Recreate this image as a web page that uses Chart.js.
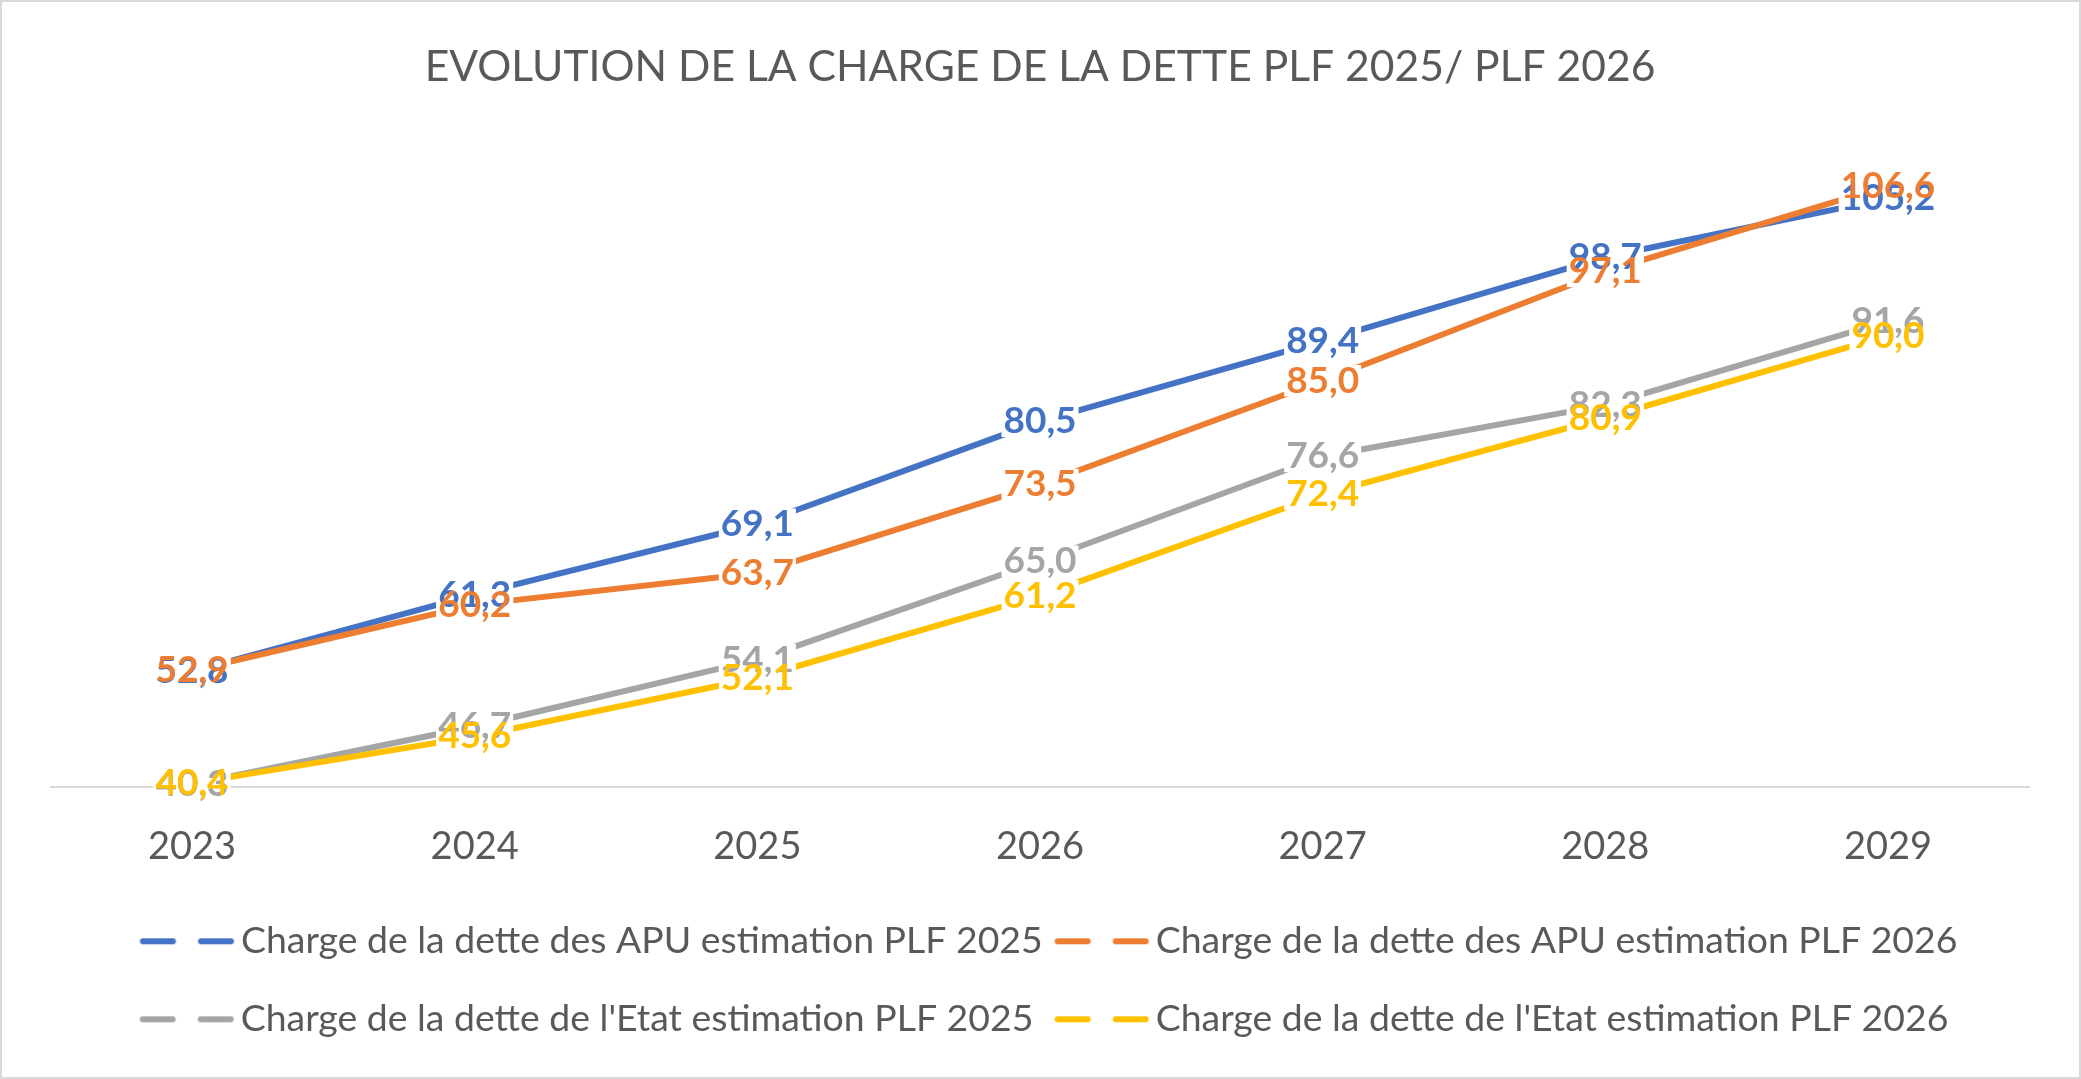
<!DOCTYPE html>
<html lang="fr">
<head>
  <meta charset="UTF-8" />
  <title>Evolution de la charge de la dette</title>
  <script src="https://cdn.jsdelivr.net/npm/chart.js"></script>
  <style>
    body {
      margin: 0;
      background-color: #ffffff;
    }
    canvas {
      display: block;
    }
  </style>
</head>
<body>
  <canvas id="detteChart" width="2081" height="1079"></canvas>

  <script>
    const annees = ["2023", "2024", "2025", "2026", "2027", "2028", "2029"];
    const apuPlf2025 = [52.8, 61.3, 69.1, 80.5, 89.4, 98.7, 105.2];
    const apuPlf2026 = [52.9, 60.2, 63.7, 73.5, 85.0, 97.1, 106.6];
    const etatPlf2025 = [40.3, 46.7, 54.1, 65.0, 76.6, 82.3, 91.6];
    const etatPlf2026 = [40.4, 45.6, 52.1, 61.2, 72.4, 80.9, 90.0];
    const libelles = [
      "Charge de la dette des APU estimation PLF 2025",
      "Charge de la dette des APU estimation PLF 2026",
      "Charge de la dette de l'Etat estimation PLF 2025",
      "Charge de la dette de l'Etat estimation PLF 2026"
    ];
    const titre = "EVOLUTION DE LA CHARGE DE LA DETTE PLF 2025/ PLF 2026";
    const couleurs = ["#4472C4", "#ED7D31", "#A5A5A5", "#FFC000"];
    const gris = "#595959";
    const police = "Lato";

    // tailles de police calées sur la largeur des textes de l'original
    const mesure = document.createElement("canvas").getContext("2d");
    function largeurTexte(texte, graisse, taille) {
      mesure.font = `${graisse} ${taille}px ${police}`;
      return mesure.measureText(texte).width;
    }
    const tailleTitre = 100 * 1231 / largeurTexte(titre, "normal", 100);
    const tailleLegende = 100 * 802 / largeurTexte(libelles[0], "normal", 100);
    const tailleEtiquette = 37;

    // la 2e ligne de légende doit garder les colonnes de la 1re
    function aligner(texte, modele) {
      const cible = largeurTexte(modele, "normal", tailleLegende);
      let t = texte;
      while (largeurTexte(t + "\u200A", "normal", tailleLegende) <= cible + 0.5) t += "\u200A";
      return t;
    }
    const textesLegende = [
      libelles[0],
      libelles[1],
      aligner(libelles[2], libelles[0]),
      aligner(libelles[3], libelles[1])
    ];

    const ecartLignes = 78;
    const padLegende = ecartLignes - tailleLegende;
    const largeurBoite = 35 + tailleLegende / 2;

    // marqueur de légende en tirets
    function creerMarqueur(couleur) {
      const debut = largeurBoite / 2 + tailleLegende / 2 - 101;
      const demi = Math.ceil(Math.max(-debut, debut + 94));
      const c = document.createElement("canvas");
      c.width = demi * 2;
      c.height = 10;
      const g = c.getContext("2d");
      g.strokeStyle = couleur;
      g.lineWidth = 6;
      g.lineCap = "round";
      const x0 = demi + debut;
      g.beginPath();
      g.moveTo(x0 + 3, 5); g.lineTo(x0 + 33, 5);
      g.moveTo(x0 + 61, 5); g.lineTo(x0 + 91, 5);
      g.stroke();
      return c;
    }
    const marqueurs = couleurs.map(creerMarqueur);

    const fmt = v => v.toFixed(1).replace(".", ",");

    const etiquettes = {
      id: "etiquettes",
      afterDatasetsDraw(chart) {
        const ctx = chart.ctx;
        const items = [];
        chart.data.datasets.forEach((ds, i) => {
          chart.getDatasetMeta(i).data.forEach((pt, j) => {
            items.push({ x: pt.x, y: pt.y, texte: fmt(ds.data[j]), couleur: ds.borderColor });
          });
        });
        ctx.save();
        ctx.font = `bold ${tailleEtiquette}px ${police}`;
        ctx.textAlign = "center";
        ctx.textBaseline = "middle";
        const h = tailleEtiquette * 0.85;
        ctx.fillStyle = "#ffffff";
        items.forEach(it => {
          const w = ctx.measureText(it.texte).width + 4;
          ctx.fillRect(it.x - w / 2, it.y - h / 2, w, h);
        });
        items.forEach(it => {
          ctx.fillStyle = it.couleur;
          ctx.fillText(it.texte, it.x, it.y);
        });
        ctx.restore();
      }
    };

    const decalageLegende = {
      id: "decalageLegende",
      afterLayout(chart) {
        chart.legend.left += 23;
        chart.legend.right += 23;
      }
    };

    const cadre = {
      id: "cadre",
      beforeDraw(chart) {
        const ctx = chart.ctx;
        ctx.save();
        ctx.fillStyle = "#ffffff";
        ctx.fillRect(0, 0, chart.width, chart.height);
        ctx.strokeStyle = "#D9D9D9";
        ctx.lineWidth = 2;
        ctx.strokeRect(1, 1, chart.width - 2, chart.height - 2);
        ctx.restore();
      }
    };

    const series = [apuPlf2025, apuPlf2026, etatPlf2025, etatPlf2026];

    new Chart(document.getElementById("detteChart"), {
      type: "line",
      data: {
        labels: annees,
        datasets: series.map((valeurs, i) => ({
          label: libelles[i],
          data: valeurs,
          borderColor: couleurs[i],
          backgroundColor: couleurs[i],
          borderWidth: 6,
          borderCapStyle: "round",
          borderJoinStyle: "round",
          pointRadius: 0,
          tension: 0,
          fill: false,
          order: 4 - i
        }))
      },
      options: {
        responsive: false,
        animation: false,
        layout: {
          padding: { left: 50.7, right: 51.7, top: 0, bottom: 31 }
        },
        plugins: {
          title: {
            display: true,
            text: titre,
            color: gris,
            font: { family: police, size: tailleTitre, weight: "normal" },
            padding: { top: 67.5 - 0.6 * tailleTitre, bottom: 155 - 67.5 - 0.6 * tailleTitre }
          },
          legend: {
            position: "bottom",
            labels: {
              usePointStyle: true,
              pointStyleWidth: largeurBoite,
              padding: padLegende,
              color: gris,
              font: { family: police, size: tailleLegende },
              generateLabels: chart => chart.data.datasets.map((ds, i) => ({
                text: textesLegende[i],
                pointStyle: marqueurs[i],
                fillStyle: ds.borderColor,
                strokeStyle: ds.borderColor,
                fontColor: gris,
                lineWidth: 0,
                hidden: false,
                datasetIndex: i
              }))
            }
          },
          tooltip: { enabled: false }
        },
        scales: {
          x: {
            offset: true,
            grid: { display: false, drawTicks: false },
            border: { color: "#D9D9D9", width: 2 },
            ticks: {
              color: gris,
              font: { family: police, size: 38 },
              padding: 37
            },
            afterFit: scale => { scale.height = 95; }
          },
          y: {
            display: false,
            min: 40,
            max: 110
          }
        }
      },
      plugins: [etiquettes, decalageLegende, cadre]
    });
  </script>
</body>
</html>
